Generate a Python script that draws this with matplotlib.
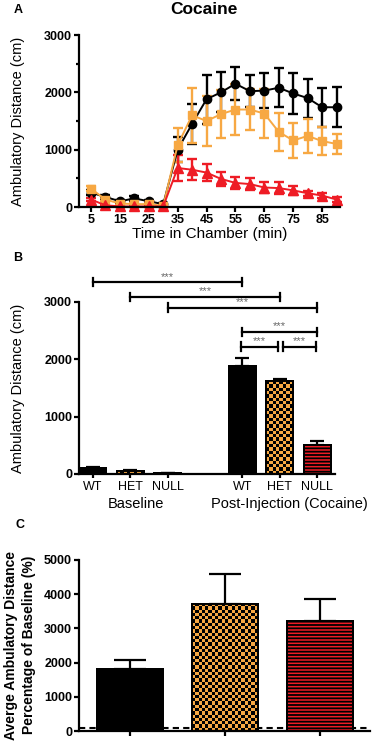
import numpy as np
import matplotlib
matplotlib.use('Agg')
import matplotlib.pyplot as plt
from matplotlib.colors import ListedColormap

plt.rcParams['font.family'] = ['Liberation Sans', 'DejaVu Sans']
plt.rcParams['hatch.linewidth'] = 1.3

# panel A: time course
time = [5, 10, 15, 20, 25, 30, 35, 40, 45, 50, 55, 60, 65, 70, 75, 80, 85, 90]
wt_mean = [250, 175, 100, 150, 100, 50, 1000, 1450, 1880, 2000, 2150, 2020, 2030, 2080, 1980, 1900, 1740, 1740]
wt_sem = [40, 40, 30, 40, 30, 20, 220, 350, 430, 350, 290, 280, 300, 340, 350, 340, 340, 345]
het_mean = [320, 130, 60, 50, 50, 20, 1080, 1600, 1500, 1620, 1700, 1700, 1630, 1310, 1160, 1240, 1150, 1100]
het_sem = [40, 30, 20, 20, 20, 10, 300, 480, 430, 415, 450, 360, 430, 330, 300, 300, 245, 175]
null_mean = [130, 30, 10, 10, 10, 10, 680, 650, 600, 490, 420, 400, 340, 330, 290, 240, 200, 130]
null_sem = [30, 10, 5, 5, 5, 5, 230, 180, 150, 120, 110, 100, 90, 100, 80, 40, 50, 40]

# panel B: baseline vs post-injection
genotypes = ['WT', 'HET', 'NULL']
baseline = [100, 60, 15]
baseline_err = [20, 10, 5]
post = [1890, 1620, 510]
post_err = [130, 30, 60]
# (bar index 1, bar index 2, height) for the significance brackets
brackets = [(0, 3, 3350), (1, 4, 3090), (2, 5, 2900), (3, 5, 2480), (3, 4, 2220), (4, 5, 2220)]

# panel C: percentage of baseline
pct = [1820, 3720, 3210]
pct_err = [265, 860, 640]

BLACK = 'black'
ORANGE = '#F7A843'
RED = '#EE1C25'

W, H = 373, 745
fig = plt.figure(figsize=(W / 100, H / 100), dpi=100)


def px_axes(x0, ytop, w, h):
    return fig.add_axes([x0 / W, 1 - (ytop + h) / H, w / W, h / H])


def style(ax):
    for s in ['top', 'right']:
        ax.spines[s].set_visible(False)
    for s in ['left', 'bottom']:
        ax.spines[s].set_linewidth(1.6)
    ax.tick_params(width=1.6, length=3.5, labelsize=9, pad=1.5)
    for lab in ax.get_yticklabels():
        lab.set_fontweight('bold')


def checker(ax, bar, cell=3.3):
    x0, y0 = bar.get_x(), bar.get_y()
    w, h = bar.get_width(), bar.get_height()
    p0 = ax.transData.transform((x0, y0))
    p1 = ax.transData.transform((x0 + w, y0 + h))
    nx = max(1, int(round((p1[0] - p0[0]) / cell)))
    ny = max(1, int(round((p1[1] - p0[1]) / cell)))
    grid = np.add.outer(np.arange(ny), np.arange(nx)) % 2
    im = ax.imshow(grid, extent=(x0, x0 + w, y0, y0 + h), origin='lower',
                   cmap=ListedColormap([ORANGE, BLACK]), aspect='auto',
                   interpolation='nearest', zorder=2.1)
    im.set_clip_path(bar)


# ---------------- A ----------------
axA = px_axes(79, 35, 261, 172)
for m, e, c, mk, ms in [(wt_mean, wt_sem, BLACK, 'o', 6),
                        (het_mean, het_sem, ORANGE, 's', 6),
                        (null_mean, null_sem, RED, '^', 6.5)]:
    axA.errorbar(time, m, yerr=e, color=c, marker=mk, ms=ms, lw=1.4,
                 elinewidth=1.7, capsize=3.8, capthick=1.7, clip_on=False)
axA.set_xlim(0.84, 91.2)
axA.set_ylim(0, 3000)
axA.set_xticks(range(5, 90, 10))
axA.set_yticks([0, 1000, 2000, 3000])
axA.set_yticks(range(500, 3000, 1000), minor=True)
style(axA)
axA.tick_params(which='minor', width=1.6, length=2.5)
for lab in axA.get_xticklabels():
    lab.set_fontweight('bold')
axA.set_xlabel('Time in Chamber (min)', fontsize=11, labelpad=1)
fig.text(204 / W, 1 - 10 / H, 'Cocaine', fontsize=12.5, fontweight='bold',
         ha='center', va='center')
fig.text(18 / W, 1 - 10 / H, 'A', fontsize=9, fontweight='bold', ha='center', va='center')
fig.text(18 / W, 1 - 121 / H, 'Ambulatory Distance (cm)', fontsize=10.5,
         rotation=90, ha='center', va='center')

# ---------------- B ----------------
axB = px_axes(79, 302, 256, 172)
pos = [0, 1, 2, 4, 5, 6]
vals = baseline + post
errs = baseline_err + post_err
axB.set_xlim(-0.375, 6.48)
axB.set_ylim(0, 3000)
colors = [BLACK, ORANGE, RED] * 2
hatches = [None, None, '-----'] * 2
bars = axB.bar(pos, vals, width=0.72, color=colors, edgecolor=BLACK,
               linewidth=1.4, zorder=2)
for b, h in zip(bars, hatches):
    if h:
        b.set_hatch(h)
axB.errorbar(pos, vals, yerr=[[0] * len(vals), errs], fmt='none', ecolor=BLACK,
             elinewidth=1.6, capsize=5, capthick=1.6, zorder=1.5)
for i in [1, 4]:
    checker(axB, bars[i])
axB.bar(pos, vals, width=0.72, color='none', edgecolor=BLACK, linewidth=1.4, zorder=3)
axB.set_xlim(-0.375, 6.48)
axB.set_ylim(0, 3000)
axB.set_xticks(pos)
axB.set_xticklabels(genotypes * 2, fontsize=9.5)
axB.set_yticks([0, 1000, 2000, 3000])
style(axB)
axB.tick_params(axis='x', length=3, pad=2)
for lab in axB.get_xticklabels():
    lab.set_fontweight('normal')
for i, j, y in brackets:
    x1, x2 = pos[i], pos[j]
    if y < 2400:
        x1 += 0.1 if i == 4 else -0.05
        x2 -= 0.04
    axB.plot([x1, x2], [y, y], color=BLACK, lw=1.6, clip_on=False)
    for xe in (x1, x2):
        axB.plot([xe, xe], [y - 75, y + 75], color=BLACK, lw=1.6, clip_on=False)
    axB.text((x1 + x2) / 2, y + 5, '***', fontsize=8, color='#666666',
             ha='center', va='bottom', clip_on=False)
for xc, lab in [(1.15, 'Baseline'), (5.25, 'Post-Injection (Cocaine)')]:
    axB.annotate(lab, xy=(xc, 0), xycoords=('data', 'axes fraction'),
                 xytext=(0, -21.6), textcoords='offset points',
                 ha='center', va='center', fontsize=10.5, annotation_clip=False)
fig.text(18 / W, 1 - 258 / H, 'B', fontsize=9, fontweight='bold', ha='center', va='center')
fig.text(18 / W, 1 - 388 / H, 'Ambulatory Distance (cm)', fontsize=10.5,
         rotation=90, ha='center', va='center')

# ---------------- C ----------------
axC = px_axes(79, 560, 291, 171)
posC = [0, 1, 2]
axC.set_xlim(-0.537, 2.526)
axC.set_ylim(0, 5000)
axC.axhline(100, color=BLACK, lw=1.5, ls=(0, (3, 2)), zorder=1)
barsC = axC.bar(posC, pct, width=0.69, color=[BLACK, ORANGE, RED],
                edgecolor=BLACK, linewidth=1.4, zorder=2)
barsC[2].set_hatch('-----')
axC.errorbar(posC, pct, yerr=[[0] * 3, pct_err], fmt='none', ecolor=BLACK,
             elinewidth=1.6, capsize=11.5, capthick=1.6, zorder=1.5)
checker(axC, barsC[1])
axC.bar(posC, pct, width=0.69, color='none', edgecolor=BLACK, linewidth=1.4, zorder=3)
axC.set_xlim(-0.537, 2.526)
axC.set_ylim(0, 5000)
axC.set_xticks(posC)
axC.set_xticklabels([])
axC.set_yticks(range(0, 5001, 1000))
style(axC)
fig.text(20 / W, 1 - 525 / H, 'C', fontsize=9, fontweight='bold', ha='center', va='center')
fig.text(20 / W, 1 - 645 / H, 'Averge Ambulatory Distance\nPercentage of Baseline (%)',
         fontsize=10, fontweight='bold', rotation=90, ha='center', va='center',
         linespacing=1.4)

fig.savefig('out.png', dpi=100)
